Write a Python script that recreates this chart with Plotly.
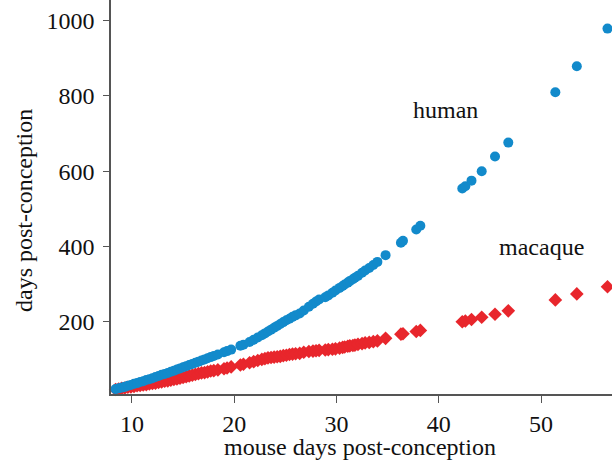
import plotly.graph_objects as go

mouse_days = [8.4, 8.7, 9.0, 9.3, 9.6, 9.9, 10.2, 10.5, 10.8, 11.1, 11.4, 11.7, 12.0, 12.3, 12.6, 12.9,
              13.2, 13.5, 13.8, 14.1, 14.4, 14.7, 15.0, 15.3, 15.6, 15.9, 16.2, 16.5, 16.8, 17.1, 17.4,
              17.7, 18.0, 18.4, 19.0, 19.3, 19.7, 20.6, 20.9, 21.5, 21.9, 22.3, 22.7, 23.0, 23.3, 23.6,
              23.9, 24.2, 24.5, 24.8, 25.1, 25.4, 25.7, 26.0, 26.4, 26.8, 27.3, 27.7, 28.0, 28.3, 28.9,
              29.2, 29.6, 29.9, 30.3, 30.6, 30.8, 31.1, 31.3, 31.6, 31.8, 32.1, 32.5, 32.8, 33.2, 33.6,
              34.0, 34.8, 36.3, 36.5, 37.8, 38.2, 42.3, 42.6, 43.2, 44.2, 45.5, 46.8, 51.4, 53.5, 56.5]

human_days = [21, 23, 25, 27, 30, 32, 35, 37, 40, 42, 45, 47, 50, 53, 56, 59,
              61, 64, 67, 70, 73, 76, 79, 82, 85, 88, 91, 94, 97, 100, 103,
              106, 109, 113, 119, 122, 126, 136, 139, 146, 152, 158, 164, 169, 174, 179,
              184, 189, 194, 199, 204, 208, 213, 217, 222, 230, 240, 248, 254, 259, 265,
              270, 277, 283, 290, 295, 299, 304, 308, 313, 317, 322, 330, 336, 343, 351,
              359, 377, 410, 415, 445, 455, 554, 560, 575, 600, 639, 676, 810, 879, 979]

macaque_days = [20, 21, 23, 24, 26, 27, 28, 30, 31, 32, 33, 35, 36, 37, 39, 40,
                42, 43, 45, 47, 48, 50, 52, 54, 56, 58, 60, 62, 64, 65, 67,
                69, 70, 72, 75, 77, 80, 85, 87, 91, 94, 97, 100, 102, 104, 105,
                106, 107, 108, 110, 111, 113, 114, 115, 116, 119, 121, 122, 123, 124, 125,
                126, 127, 128, 130, 132, 133, 135, 136, 137, 138, 140, 142, 144, 145, 147,
                149, 156, 167, 168, 174, 177, 200, 202, 206, 212, 220, 229, 258, 274, 293]

x_ticks = [10, 20, 30, 40, 50]
y_ticks = [200, 400, 600, 800, 1000]

BLUE = "#128acb"
RED = "#e8262c"
FONT = "Liberation Serif"
AXIS = "#555555"
FS = 24

fig = go.Figure()
fig.add_trace(go.Scatter(x=mouse_days, y=macaque_days, mode="markers", name="macaque",
                         marker=dict(symbol="diamond", size=10.5, color=RED, line=dict(width=0)),
                         cliponaxis=False))
fig.add_trace(go.Scatter(x=mouse_days, y=human_days, mode="markers", name="human",
                         marker=dict(symbol="circle", size=10, color=BLUE, line=dict(width=0)),
                         cliponaxis=False))

fig.update_layout(
    width=612, height=463,
    margin=dict(l=111, r=0, t=0, b=69),
    paper_bgcolor="white", plot_bgcolor="white",
    showlegend=False,
    font=dict(family=FONT, size=FS, color="#111111"),
    xaxis=dict(range=[7.95, 56.94], tickvals=x_ticks, ticks="outside", ticklen=7, tickwidth=1.3,
               tickcolor=AXIS, showline=True, linecolor=AXIS, linewidth=1.5, showgrid=False,
               zeroline=False, tickfont=dict(family=FONT, size=FS)),
    yaxis=dict(range=[8, 1055], tickvals=y_ticks, ticks="outside", ticklen=6, tickwidth=1.3,
               tickcolor=AXIS, showline=True, linecolor=AXIS, linewidth=1.5, showgrid=False,
               zeroline=False, tickfont=dict(family=FONT, size=FS), ticklabelstandoff=4),
    annotations=[
        dict(text="human", x=40.67, y=762, xref="x", yref="y", showarrow=False,
             font=dict(family=FONT, size=FS)),
        dict(text="macaque", x=50.0, y=399, xref="x", yref="y", showarrow=False,
             font=dict(family=FONT, size=FS)),
        dict(text="mouse days post-conception", x=(359.5 - 111) / 501, y=-(447 - 394) / 394,
             xref="paper", yref="paper", showarrow=False, xanchor="center", yanchor="middle",
             font=dict(family=FONT, size=FS)),
        dict(text="days post-conception", x=-(111 - 24) / 501, y=(394 - 211) / 394,
             xref="paper", yref="paper", showarrow=False, textangle=-90,
             xanchor="center", yanchor="middle", font=dict(family=FONT, size=FS)),
    ],
)

fig.write_html("out.html")
